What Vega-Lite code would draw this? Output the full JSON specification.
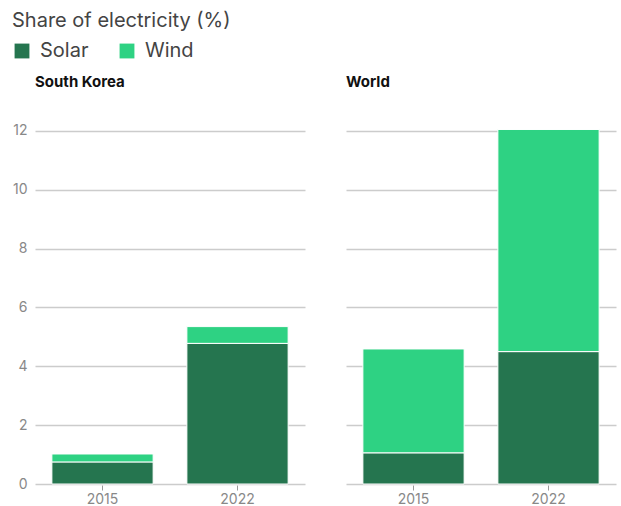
{
  "$schema": "https://vega.github.io/schema/vega-lite/v6.json",
  "padding": {"left": 12, "top": 11, "right": 3, "bottom": 5},
  "background": "white",
  "data": {"values": [
    {"region": "South Korea", "year": "2015", "source": "Solar", "share": 0.75, "rank": 1},
    {"region": "South Korea", "year": "2015", "source": "Wind", "share": 0.27, "rank": 2},
    {"region": "South Korea", "year": "2022", "source": "Solar", "share": 4.78, "rank": 1},
    {"region": "South Korea", "year": "2022", "source": "Wind", "share": 0.57, "rank": 2},
    {"region": "World", "year": "2015", "source": "Solar", "share": 1.06, "rank": 1},
    {"region": "World", "year": "2015", "source": "Wind", "share": 3.53, "rank": 2},
    {"region": "World", "year": "2022", "source": "Solar", "share": 4.5, "rank": 1},
    {"region": "World", "year": "2022", "source": "Wind", "share": 7.55, "rank": 2}
  ]},
  "facet": {"column": {"field": "region", "type": "nominal", "title": null,
    "header": {"labelAnchor": "start", "labelFontSize": 15, "labelFontWeight": "bold", "labelFont": "Inter", "labelColor": "#111", "labelPadding": 38}}},
  "spacing": 41,
  "spec": {
    "width": 270,
    "height": 356,
    "mark": {"type": "bar", "stroke": "white", "strokeWidth": 1},
    "encoding": {
      "x": {"field": "year", "type": "nominal", "title": null,
        "scale": {"paddingInner": 0.25, "paddingOuter": 0.125},
        "axis": {"labelAngle": 0, "domain": false, "ticks": true, "tickSize": 5, "tickColor": "#999", "labelColor": "#888", "labelFontSize": 14, "labelFont": "Inter", "labelPadding": 2}},
      "y": {"field": "share", "type": "quantitative", "title": null, "stack": "zero",
        "scale": {"domain": [0, 12.1], "nice": false},
        "axis": {"values": [0, 2, 4, 6, 8, 10, 12], "domain": false, "ticks": false, "labelColor": "#888", "labelFontSize": 14, "labelFont": "Inter", "labelPadding": 8, "gridColor": "#cccccc", "gridWidth": 1.5}},
      "order": {"field": "rank", "type": "quantitative", "sort": "ascending"},
      "color": {"field": "source", "type": "nominal",
        "scale": {"domain": ["Solar", "Wind"], "range": ["#25754f", "#2ed283"]},
        "legend": {"title": "Share of electricity (%)", "orient": "none", "legendX": -23, "legendY": -117, "direction": "horizontal", "titleOrient": "top", "titleLimit": 400,
          "titleFontSize": 20, "titleFontWeight": "normal", "titleFont": "Inter", "titleColor": "#444", "titlePadding": 10,
          "labelFontSize": 20, "labelFont": "Inter", "labelColor": "#444", "symbolType": "square", "symbolSize": 220, "symbolStrokeWidth": 0,
          "columnPadding": 28, "labelOffset": 8}}
    }
  },
  "config": {"view": {"stroke": null}, "axis": {"grid": true}, "axisX": {"grid": false}}
}
